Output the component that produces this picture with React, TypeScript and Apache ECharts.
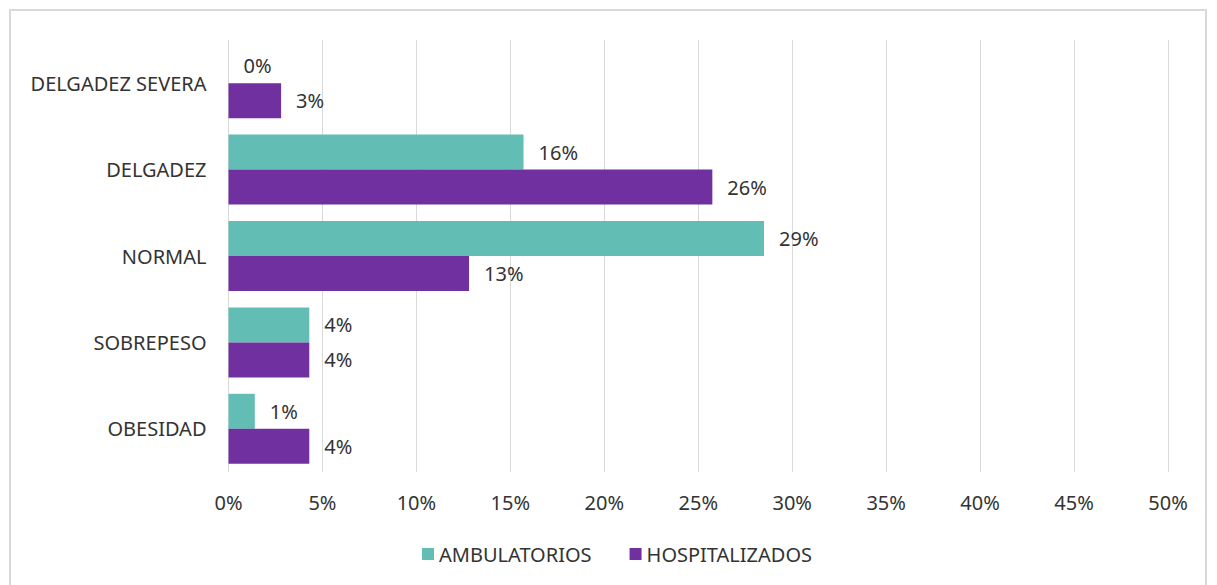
import React, { useEffect, useRef } from "react";
import * as echarts from "echarts";

const categories = ["DELGADEZ SEVERA", "DELGADEZ", "NORMAL", "SOBREPESO", "OBESIDAD"];
const ambulatorios = [0, 15.7, 28.5, 4.3, 1.4];
const hospitalizados = [2.8, 25.75, 12.8, 4.3, 4.3];
const seriesNames = ["AMBULATORIOS", "HOSPITALIZADOS"];
const colors = ["#62BEB4", "#7030A0"];

const FONT = "'Noto Sans', sans-serif";
const TXT = "#333333";
const FS = 20;

export default function App() {
  const ref = useRef<HTMLDivElement>(null);
  useEffect(() => {
    if (!ref.current) return;
    const chart = echarts.init(ref.current, undefined, { renderer: "svg" });
    const label = {
      show: true,
      position: "right" as const,
      distance: 15,
      color: TXT,
      fontSize: FS,
      fontFamily: FONT,
      formatter: (p: any) => Math.round(p.value) + "%",
    };
    chart.setOption({
      animation: false,
      backgroundColor: "#ffffff",
      textStyle: { fontFamily: FONT },
      graphic: [
        {
          type: "rect",
          shape: { x: 10, y: 10, width: 1196, height: 590 },
          style: { fill: "none", stroke: "#d9d9d9", lineWidth: 2 },
          silent: true,
        },
      ],
      grid: { left: 228.5, right: 49, top: 40, bottom: 113, containLabel: false },
      legend: {
        data: seriesNames,
        top: 539,
        left: 417,
        itemWidth: 12,
        itemHeight: 12,
        itemGap: 38,
        icon: "rect",
        textStyle: { color: TXT, fontSize: FS, fontFamily: FONT },
      },
      xAxis: {
        type: "value",
        min: 0,
        max: 50,
        interval: 5,
        axisLine: { show: false },
        axisTick: { show: false },
        splitLine: { show: true, lineStyle: { color: "#d9d9d9", width: 1 } },
        axisLabel: {
          color: TXT,
          fontSize: FS,
          fontFamily: FONT,
          margin: 20,
          formatter: (v: number) => v + "%",
        },
      },
      yAxis: {
        type: "category",
        data: categories,
        inverse: true,
        axisLine: { show: false },
        axisTick: { show: false },
        axisLabel: { color: TXT, fontSize: FS, fontFamily: FONT, margin: 22 },
      },
      series: [
        {
          name: seriesNames[0],
          type: "bar",
          data: ambulatorios,
          itemStyle: { color: colors[0] },
          barGap: "0%",
          barCategoryGap: "19%",
          label,
        },
        {
          name: seriesNames[1],
          type: "bar",
          data: hospitalizados,
          itemStyle: { color: colors[1] },
          barGap: "0%",
          barCategoryGap: "19%",
          label,
        },
      ],
    });
    return () => chart.dispose();
  }, []);
  return (
    <div
      ref={ref}
      style={{ position: "fixed", left: 0, top: 0, width: 1217, height: 585 }}
    />
  );
}
